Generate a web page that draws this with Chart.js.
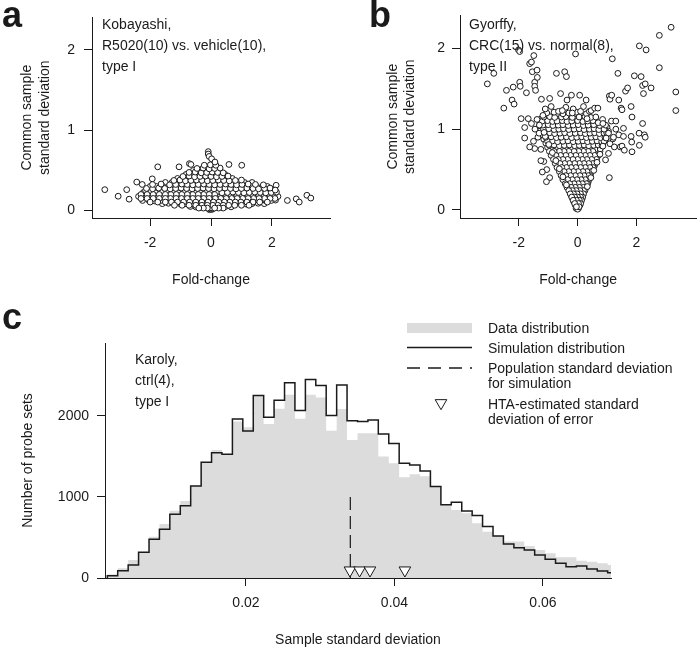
<!DOCTYPE html>
<html><head><meta charset="utf-8">
<script src="https://cdn.jsdelivr.net/npm/chart.js@4.4.0/dist/chart.umd.min.js"></script>
<style>
html,body{margin:0;padding:0;background:#fff;}
#wrap{position:relative;width:700px;height:651px;overflow:hidden;font-family:"Liberation Sans",Arial,sans-serif;color:#1a1a1a;}
canvas{position:absolute;}
.t{position:absolute;font-size:14px;line-height:21px;white-space:nowrap;}
.L{position:absolute;font-size:36px;font-weight:bold;line-height:36px;}
.lg{position:absolute;font-size:14px;line-height:16px;white-space:nowrap;}
</style></head><body>
<div id="wrap">
<canvas id="ca" width="350" height="300" style="left:0;top:0"></canvas>
<canvas id="cb" width="350" height="300" style="left:350px;top:0"></canvas>
<canvas id="cc" width="700" height="351" style="left:0;top:300px"></canvas>
<div class="L" style="left:2px;top:-3px">a</div>
<div class="L" style="left:369px;top:-3px">b</div>
<div class="L" style="left:2px;top:299px">c</div>
<div class="t" style="left:102px;top:14px">Kobayashi,<br>R5020(10) vs. vehicle(10),<br>type I</div>
<div class="t" style="left:469px;top:14px">Gyorffy,<br>CRC(15) vs. normal(8),<br>type II</div>
<div class="t" style="left:135px;top:349px">Karoly,<br>ctrl(4),<br>type I</div>
<div class="lg" style="left:488px;top:320px">Data distribution</div>
<div class="lg" style="left:488px;top:340px">Simulation distribution</div>
<div class="lg" style="left:488px;top:360px">Population standard deviation</div>
<div class="lg" style="left:488px;top:375px">for simulation</div>
<div class="lg" style="left:488px;top:396px">HTA-estimated standard</div>
<div class="lg" style="left:488px;top:411px">deviation of error</div>
</div>
<script>
// ---------- data ----------
const foldTicks = [-2, 0, 2];
const sdTicks = [0, 1, 2];
const countTicks = [0, 1000, 2000];
const sampleSdTicks = [0.02, 0.04, 0.06];

// Panel a: Kobayashi (fold-change, common sample SD) - core cloud as [x,y]
const kobaCore = [
[-0.05,0.005],[0.03,0.008],[-0.02,0.015],[0.06,0.02],[-0.08,0.022],[0.0,0.03],
[-0.68,0.045],[-0.5,0.04],[-0.34,0.045],[-0.18,0.04],[0.12,0.045],[0.3,0.04],[0.48,0.045],[0.66,0.04],
[-1.6,0.08],[-1.4,0.085],[-1.2,0.08],[-1.0,0.075],[-0.82,0.08],[-0.62,0.085],[-0.44,0.08],[-0.26,0.075],[-0.08,0.08],[0.1,0.085],[0.28,0.08],[0.45,0.075],[0.62,0.08],[0.8,0.085],[0.98,0.08],[1.16,0.075],[1.35,0.08],[1.55,0.085],[1.75,0.08],
[-2.25,0.12],[-2.05,0.125],[-1.85,0.115],[-1.65,0.12],[-1.45,0.125],[-1.28,0.12],[-1.1,0.115],[-0.92,0.12],[-0.74,0.125],[-0.56,0.12],[-0.38,0.115],[-0.2,0.12],[-0.02,0.125],[0.18,0.12],[0.36,0.115],[0.54,0.12],[0.72,0.125],[0.9,0.12],[1.08,0.115],[1.26,0.12],[1.44,0.125],[1.62,0.12],[1.8,0.115],[1.98,0.12],[2.12,0.125],
[-2.38,0.17],[-2.18,0.165],[-1.98,0.175],[-1.78,0.17],[-1.58,0.165],[-1.4,0.17],[-1.22,0.175],[-1.04,0.17],[-0.86,0.165],[-0.68,0.17],[-0.5,0.175],[-0.32,0.17],[-0.14,0.165],[0.06,0.17],[0.24,0.175],[0.42,0.17],[0.6,0.165],[0.78,0.17],[0.96,0.175],[1.14,0.17],[1.32,0.165],[1.5,0.17],[1.68,0.175],[1.86,0.17],[2.05,0.165],[2.2,0.17],
[-2.22,0.22],[-2.02,0.225],[-1.82,0.215],[-1.63,0.22],[-1.44,0.225],[-1.26,0.22],[-1.08,0.215],[-0.9,0.22],[-0.72,0.225],[-0.54,0.22],[-0.36,0.215],[-0.18,0.22],[0.0,0.225],[0.18,0.22],[0.36,0.215],[0.54,0.22],[0.72,0.225],[0.9,0.22],[1.08,0.215],[1.26,0.22],[1.44,0.225],[1.62,0.22],[1.8,0.215],[1.98,0.22],[2.15,0.225],
[-2.12,0.27],[-1.92,0.265],[-1.72,0.275],[-1.52,0.27],[-1.34,0.265],[-1.16,0.27],[-0.98,0.275],[-0.8,0.27],[-0.62,0.265],[-0.44,0.27],[-0.26,0.275],[-0.08,0.27],[0.1,0.265],[0.28,0.27],[0.46,0.275],[0.64,0.27],[0.82,0.265],[1.0,0.27],[1.18,0.275],[1.38,0.27],[1.56,0.265],[1.76,0.27],[1.94,0.275],
[-1.92,0.32],[-1.64,0.325],[-1.36,0.315],[-1.16,0.32],[-0.96,0.325],[-0.78,0.32],[-0.6,0.315],[-0.42,0.32],[-0.24,0.325],[-0.06,0.32],[0.12,0.315],[0.3,0.32],[0.48,0.325],[0.66,0.32],[0.84,0.315],[1.02,0.32],[1.22,0.325],[1.46,0.32],[1.72,0.315],
[-1.22,0.37],[-1.02,0.375],[-0.84,0.365],[-0.66,0.37],[-0.48,0.375],[-0.3,0.37],[-0.12,0.365],[0.06,0.37],[0.24,0.375],[0.42,0.37],[0.6,0.365],[0.8,0.37],[1.0,0.375],
[-0.92,0.42],[-0.72,0.425],[-0.54,0.415],[-0.36,0.42],[-0.18,0.425],[0.0,0.42],[0.18,0.415],[0.36,0.42],[0.56,0.425],
[-0.72,0.47],[-0.52,0.475],[-0.32,0.465],[-0.14,0.47],[0.04,0.475],[0.22,0.47],[0.4,0.465],
[-0.46,0.52],[-0.26,0.525],[-0.06,0.515],[0.12,0.52],[0.3,0.525],
[-0.22,0.56],[-0.02,0.565],[0.16,0.56]
];
// Panel a: in-between points, grouped by row: [y, [x ...]]
const kobaFillRows = [
[0.025, [-0.4,-0.25,-0.12,0.12,0.25,0.4]],
[0.06,  [-1.2,-0.95,-0.72,-0.5,-0.3,-0.12,0.06,0.22,0.4,0.58,0.78,1.0,1.25]],
[0.10,  [-2.0,-1.75,-1.5,-1.3,-1.1,-0.9,-0.7,-0.5,-0.3,-0.1,0.08,0.26,0.44,0.62,0.8,0.98,1.18,1.38,1.6,1.85]],
[0.145, [-2.3,-2.1,-1.9,-1.7,-1.5,-1.33,-1.15,-0.97,-0.78,-0.6,-0.42,-0.24,-0.06,0.14,0.32,0.5,0.68,0.86,1.04,1.22,1.4,1.58,1.76,1.94,2.1]],
[0.195, [-2.3,-2.1,-1.9,-1.7,-1.5,-1.32,-1.14,-0.96,-0.78,-0.6,-0.42,-0.24,-0.06,0.12,0.3,0.48,0.66,0.84,1.02,1.2,1.38,1.56,1.74,1.92,2.08]],
[0.245, [-2.15,-1.95,-1.75,-1.55,-1.36,-1.18,-1.0,-0.82,-0.64,-0.46,-0.28,-0.1,0.08,0.26,0.44,0.62,0.8,0.98,1.16,1.34,1.52,1.7,1.9,2.08]],
[0.295, [-2.0,-1.8,-1.58,-1.4,-1.22,-1.04,-0.86,-0.68,-0.5,-0.32,-0.14,0.04,0.22,0.4,0.58,0.76,0.94,1.12,1.3,1.5,1.7,1.85]],
[0.345, [-1.5,-1.28,-1.08,-0.9,-0.72,-0.54,-0.36,-0.18,0.0,0.18,0.36,0.54,0.72,0.9,1.1,1.35]],
[0.395, [-1.1,-0.92,-0.74,-0.56,-0.38,-0.2,-0.02,0.16,0.34,0.5,0.7]],
[0.445, [-0.82,-0.62,-0.44,-0.26,-0.08,0.1,0.28,0.46]],
[0.495, [-0.58,-0.38,-0.18,0.02,0.2]]
];
const kobaOut = [
[-3.49,0.255],[-3.05,0.173],[-2.77,0.255],[-2.69,0.136],[-2.44,0.35],[-2.26,0.32],[-1.93,0.39],[-1.75,0.54],
[-1.05,0.54],[-0.71,0.58],[-0.66,0.57],[-0.09,0.73],[-0.09,0.70],[-0.06,0.67],[0.02,0.64],[0.13,0.60],
[0.59,0.57],[1.01,0.56],[2.14,0.31],[2.11,0.25],[2.51,0.12],[2.80,0.14],[2.90,0.10],[3.15,0.185],[3.28,0.15]
];

// Panel b: Gyorffy
const gyorCore = [
[-0.05,0.02],[0.03,0.02],[0.0,0.01],
[-0.08,0.06],[0.0,0.055],[0.08,0.06],
[-0.13,0.10],[0.0,0.1],[0.11,0.095],
[-0.17,0.14],[-0.05,0.145],[0.07,0.14],[0.15,0.135],
[-0.22,0.18],[-0.08,0.185],[0.05,0.175],[0.18,0.18],
[-0.26,0.22],[-0.1,0.225],[0.04,0.215],[0.2,0.22],
[-0.3,0.26],[-0.14,0.265],[0.02,0.255],[0.17,0.26],[0.26,0.265],
[-0.35,0.30],[-0.18,0.305],[-0.02,0.295],[0.14,0.3],[0.3,0.305],
[-0.42,0.35],[-0.25,0.355],[-0.08,0.345],[0.08,0.35],[0.22,0.355],[0.36,0.345],
[-0.48,0.4],[-0.32,0.405],[-0.15,0.395],[0.0,0.4],[0.16,0.405],[0.3,0.395],[0.42,0.4],
[-0.55,0.45],[-0.38,0.455],[-0.2,0.445],[-0.04,0.45],[0.12,0.455],[0.28,0.445],[0.44,0.45],
[-0.6,0.5],[-0.43,0.505],[-0.26,0.495],[-0.1,0.5],[0.06,0.505],[0.22,0.495],[0.38,0.5],[0.5,0.505],
[-0.66,0.55],[-0.5,0.555],[-0.33,0.545],[-0.16,0.55],[0.0,0.555],[0.16,0.545],[0.32,0.55],[0.48,0.555],[0.57,0.545],
[-0.72,0.6],[-0.55,0.605],[-0.38,0.595],[-0.2,0.6],[-0.04,0.605],[0.12,0.595],[0.28,0.6],[0.44,0.605],[0.6,0.595],
[-0.78,0.65],[-0.62,0.655],[-0.45,0.645],[-0.28,0.65],[-0.1,0.655],[0.06,0.645],[0.22,0.65],[0.38,0.655],[0.54,0.645],[0.66,0.65],
[-0.85,0.7],[-0.68,0.705],[-0.5,0.695],[-0.33,0.7],[-0.16,0.705],[0.0,0.695],[0.16,0.7],[0.32,0.705],[0.48,0.695],[0.64,0.7],[0.73,0.705],
[-0.9,0.75],[-0.73,0.755],[-0.56,0.745],[-0.4,0.75],[-0.22,0.755],[-0.05,0.745],[0.12,0.75],[0.28,0.755],[0.44,0.745],[0.6,0.75],[0.77,0.755],
[-0.96,0.8],[-0.8,0.805],[-0.62,0.795],[-0.45,0.8],[-0.28,0.805],[-0.1,0.795],[0.06,0.8],[0.22,0.805],[0.38,0.795],[0.55,0.8],[0.7,0.805],[0.83,0.795],
[-1.02,0.85],[-0.85,0.855],[-0.68,0.845],[-0.5,0.85],[-0.33,0.855],[-0.15,0.845],[0.02,0.85],[0.18,0.855],[0.34,0.845],[0.5,0.85],[0.66,0.855],[0.82,0.845],[0.9,0.85],
[-1.08,0.9],[-0.9,0.905],[-0.72,0.895],[-0.56,0.9],[-0.38,0.905],[-0.2,0.895],[-0.03,0.9],[0.14,0.905],[0.3,0.895],[0.46,0.9],[0.62,0.905],[0.78,0.895],[0.93,0.9],
[-1.12,0.95],[-0.95,0.955],[-0.78,0.945],[-0.6,0.95],[-0.44,0.955],[-0.26,0.945],[-0.08,0.95],[0.1,0.955],[0.26,0.945],[0.42,0.95],[0.58,0.955],[0.74,0.945],[0.9,0.95],[0.99,0.955],
[-1.16,1.0],[-0.98,1.005],[-0.8,0.995],[-0.64,1.0],[-0.48,1.005],[-0.3,0.995],[-0.12,1.0],[0.05,1.005],[0.22,0.995],[0.4,1.0],[0.56,1.005],[0.72,0.995],[0.9,1.0],
[-1.18,1.05],[-1.0,1.055],[-0.84,1.045],[-0.66,1.05],[-0.5,1.055],[-0.32,1.045],[-0.15,1.05],[0.02,1.055],[0.2,1.045],[0.36,1.05],[0.55,1.055],[0.75,1.045],
[-1.2,1.1],[-1.02,1.105],[-0.85,1.095],[-0.7,1.1],[-0.52,1.105],[-0.36,1.095],[-0.2,1.1],[0.0,1.105],[0.18,1.095],[0.34,1.1],[0.52,1.105],
[-1.15,1.15],[-0.95,1.155],[-0.78,1.145],[-0.55,1.15],[-0.4,1.155],[-0.18,1.145],[0.05,1.15],[0.25,1.155],[0.45,1.145],
[-1.05,1.2],[-0.8,1.21],[-0.5,1.19],[-0.3,1.2],[-0.05,1.21],[0.3,1.19],
[1.05,0.95],[1.1,0.82],[1.2,0.88],[1.25,0.78],[1.3,1.0],[1.4,0.93],[1.05,0.7],[0.95,0.62],[1.15,1.1],[1.3,1.1],[1.45,0.78],
[-1.35,0.9],[-1.3,1.05],[-1.45,1.0],[-1.25,0.75],[-1.15,0.6],[-1.05,0.5],[-0.95,0.4],[-1.5,0.85]
];
const gyorFillRows = [
[0.04,  [-0.04,0.05]],
[0.08,  [-0.1,0.03,0.1]],
[0.12,  [-0.15,-0.04,0.06,0.13]],
[0.16,  [-0.2,-0.1,0.0,0.1,0.17]],
[0.20,  [-0.25,-0.14,-0.02,0.1,0.2]],
[0.24,  [-0.3,-0.18,-0.05,0.08,0.2,0.25]],
[0.28,  [-0.36,-0.22,-0.08,0.06,0.2,0.29]],
[0.325, [-0.42,-0.27,-0.12,0.02,0.16,0.3,0.34]],
[0.375, [-0.5,-0.34,-0.18,-0.02,0.12,0.26,0.38]],
[0.425, [-0.56,-0.4,-0.24,-0.08,0.08,0.22,0.36,0.43]],
[0.475, [-0.62,-0.46,-0.3,-0.14,0.02,0.18,0.32,0.46]],
[0.525, [-0.7,-0.54,-0.38,-0.22,-0.06,0.1,0.26,0.42,0.53]],
[0.575, [-0.76,-0.6,-0.44,-0.28,-0.1,0.06,0.22,0.38,0.52,0.6]],
[0.625, [-0.82,-0.66,-0.5,-0.34,-0.16,0.0,0.16,0.32,0.48,0.64]],
[0.675, [-0.9,-0.74,-0.58,-0.4,-0.24,-0.06,0.1,0.26,0.42,0.58,0.7]],
[0.725, [-0.96,-0.8,-0.62,-0.46,-0.3,-0.12,0.04,0.2,0.36,0.52,0.68,0.76]],
[0.775, [-1.02,-0.86,-0.7,-0.52,-0.36,-0.18,-0.02,0.14,0.3,0.46,0.62,0.78]],
[0.825, [-1.08,-0.92,-0.76,-0.58,-0.42,-0.24,-0.06,0.1,0.26,0.42,0.58,0.74,0.86]],
[0.875, [-1.15,-0.98,-0.8,-0.64,-0.46,-0.3,-0.12,0.06,0.22,0.38,0.54,0.7,0.86,0.95]],
[0.925, [-1.22,-1.04,-0.86,-0.68,-0.52,-0.34,-0.16,0.02,0.18,0.34,0.5,0.66,0.82,0.98]],
[0.975, [-1.28,-1.08,-0.9,-0.72,-0.56,-0.38,-0.2,-0.02,0.14,0.3,0.48,0.64,0.8,0.96,1.05]],
[1.025, [-1.3,-1.1,-0.92,-0.74,-0.58,-0.4,-0.24,-0.06,0.1,0.28,0.46,0.64,0.82,1.0]],
[1.075, [-1.28,-1.1,-0.94,-0.76,-0.6,-0.44,-0.26,-0.08,0.1,0.26,0.44,0.64,0.85]],
[1.125, [-1.25,-1.05,-0.88,-0.66,-0.48,-0.3,-0.1,0.12,0.35,0.6]]
];
// Panel b: ragged edge points of the V
const gyorEdge = [
[-0.38,0.31],[0.33,0.29],[-0.62,0.51],[0.55,0.49],[-0.86,0.71],[0.76,0.69],[-1.1,0.91],[0.97,0.89],
[-0.5,0.41],[0.45,0.4],[-0.74,0.61],[0.66,0.59],[-0.98,0.81],[0.86,0.79],
[-1.1,1.25],[-0.9,1.28],[-0.65,1.22],[-0.4,1.27],[-0.15,1.25],[0.1,1.22],[0.2,1.28],[0.4,1.22],
[0.62,1.15],[0.7,1.08],[0.85,1.12],[0.95,1.05],[-1.38,1.12]
];
const gyorOut = [
[-3.07,1.56],[-2.85,1.69],[-2.51,1.26],[-2.42,1.48],[-2.23,1.36],[-2.16,1.31],[-2.19,1.52],[-1.97,1.58],[-1.95,1.53],
[-2.01,1.98],[-1.97,1.96],[-1.92,1.13],[-1.80,1.02],[-1.80,0.89],[-1.74,1.45],[-1.63,1.81],[-1.57,1.83],[-1.54,1.71],
[-1.49,1.91],[-1.46,1.58],[-1.46,1.53],[-1.43,1.48],[-1.38,1.73],[-1.37,1.64],[-1.23,1.37],[-1.18,1.17],[-0.95,1.38],
[-0.72,1.69],[-0.58,1.44],[-0.52,1.23],[-0.44,1.71],[-0.38,1.65],[-0.36,1.36],[-0.21,1.42],[-0.18,1.20],[-0.07,1.93],
[0.07,1.42],[0.29,1.36],[0.32,1.13],[0.46,1.23],[0.58,1.26],[0.69,1.26],[0.86,1.07],[1.08,1.41],[1.10,1.37],[1.16,1.42],
[1.18,1.87],[1.37,1.69],[1.40,1.36],[1.48,1.26],[1.51,1.24],[1.63,1.47],[1.70,1.51],[1.82,1.28],[1.85,1.15],[1.93,1.66],
[2.10,2.03],[2.16,1.65],[2.21,1.54],[2.24,1.44],[2.33,1.98],[2.30,1.56],[2.50,1.51],[2.78,2.16],[2.78,1.76],[3.18,2.26],
[3.34,1.46],[3.34,1.23],[1.82,0.91],[1.84,0.84],[1.85,0.72],[2.10,0.80],[2.21,1.07],[2.27,0.93],[2.30,0.90],[2.09,0.95],
[1.56,1.01],[1.56,0.91],[1.51,0.79],[1.59,0.74],[1.22,0.90],[1.08,0.40],[-1.46,0.76],[-1.63,0.78],[-1.25,0.61],
[-1.20,0.47],[-1.06,0.35],[-1.31,0.95],[-1.57,1.07],[-1.14,0.96],[-1.68,1.13]
];

// Panel c: Karoly histogram (49 bins)
const binEdges = [0.00132,0.00272,0.00413,0.00553,0.00694,0.00834,0.00974,0.01115,0.01255,0.01396,
0.01536,0.01676,0.01817,0.01957,0.02098,0.02238,0.02378,0.02519,0.02659,0.02800,
0.02940,0.03080,0.03221,0.03361,0.03502,0.03642,0.03782,0.03923,0.04063,0.04204,
0.04344,0.04484,0.04625,0.04765,0.04906,0.05046,0.05186,0.05327,0.05467,0.05608,
0.05748,0.05888,0.06029,0.06169,0.06310,0.06450,0.06590,0.06731,0.06871,0.07012];
const dataCounts = [45,119,222,317,510,667,830,950,1136,1428,1580,1527,1930,1860,2251,1900,2090,2260,1965,2260,
2228,1817,2085,1704,1786,1786,1498,1416,1243,1280,1255,1128,901,840,798,675,572,519,449,449,
395,346,305,255,255,214,201,181,160];
const simCounts = [29,90,160,317,477,601,786,893,1136,1428,1547,1527,1963,1815,2251,1984,2195,2411,2068,2450,
2375,2004,2383,1940,1930,1951,1776,1660,1416,1393,1321,1128,905,934,827,770,634,519,420,374,
346,284,230,181,140,148,111,86,65];
const popSd = 0.03405;
const popSdHeight = 1000;
const htaSd = [0.0340, 0.0353, 0.0367, 0.0414];
const htaMarkerY = 95;

// ---------- rendering ----------
const FONT = '"Liberation Sans", Arial, sans-serif';
const INK = '#1a1a1a';
const GRAY = '#dcdcdc';

function rowsToPts(rows){
  const out = [];
  rows.forEach(r => r[1].forEach(x => out.push([x, r[0]])));
  return out;
}
// interleave two lists so that the drawing order is mixed
function interleave(a, b){
  const out = [];
  const n = Math.max(a.length, b.length);
  for (let i = 0; i < n; i++){
    if (i < a.length) out.push(a[i]);
    if (i < b.length) out.push(b[b.length - 1 - i]);
  }
  return out;
}

function axis(extra){
  return Object.assign({
    type:'linear',
    grid:{display:true, drawOnChartArea:false, drawTicks:true, tickLength:8, color:INK, lineWidth:1},
    border:{display:true, color:INK, width:1}
  }, extra);
}
function tickFont(pad){ return {padding:pad, color:INK, font:{family:FONT, size:14}, callback:v => String(v)}; }

function scatterPanel(id, pts, xr, yTitlePad, yTitleLH, yTickPad, padRight, yAxisW){
  return new Chart(document.getElementById(id), {
    type:'scatter',
    data:{datasets:[{
      data: pts.map(p => ({x:p[0], y:p[1]})),
      pointRadius:2.9, pointHoverRadius:2.9, pointBorderWidth:1,
      pointBorderColor:INK, pointBackgroundColor:'#ffffff'
    }]},
    options:{
      responsive:false, animation:false, devicePixelRatio:1, events:[],
      layout:{padding:{top:15, right:padRight, left:0, bottom:0}},
      plugins:{legend:{display:false}, tooltip:{enabled:false}},
      scales:{
        x: axis({min:xr[0], max:xr[1],
          afterBuildTicks:s => { s.ticks = foldTicks.map(v => ({value:v})); },
          afterFit:s => { s.height = 82; },
          ticks:tickFont(9),
          title:{display:true, text:'Fold-change', color:INK, font:{family:FONT, size:14, lineHeight:'18px'}, padding:{top:0, bottom:11}}
        }),
        y: axis({min:-0.099, max:2.407,
          afterBuildTicks:s => { s.ticks = sdTicks.map(v => ({value:v})); },
          afterFit:s => { s.width = yAxisW; },
          ticks:tickFont(yTickPad),
          title:{display:true, text:['Common sample','standard deviation'], color:INK,
            font:{family:FONT, size:14, lineHeight:yTitleLH+'px'}, padding:{top:yTitlePad, bottom:0}}
        })
      }
    }
  });
}

scatterPanel('ca', interleave(kobaCore, rowsToPts(kobaFillRows)).concat(kobaOut), [-3.91, 3.91], 18, 18, 9, 20, 92);
scatterPanel('cb', interleave(gyorCore, rowsToPts(gyorFillRows)).concat(gyorEdge, gyorOut), [-4.0, 4.03], 34.5, 17, 7, 3, 110);

// histogram step series from bin edges
function stepPoints(counts, withBase){
  const pts = [];
  if (withBase) pts.push({x:binEdges[0], y:0});
  counts.forEach((c, i) => pts.push({x:binEdges[i], y:c}));
  pts.push({x:binEdges[counts.length], y:counts[counts.length-1]});
  return pts;
}

const legendPlugin = {
  id:'legendGlyphs',
  afterDraw(chart){
    const ctx = chart.ctx;
    ctx.save();
    ctx.fillStyle = GRAY;
    ctx.fillRect(407, 23, 65, 10);
    ctx.strokeStyle = INK;
    ctx.lineWidth = 1.4;
    ctx.beginPath(); ctx.moveTo(407, 47.5); ctx.lineTo(472, 47.5); ctx.stroke();
    ctx.setLineDash([13, 8]);
    ctx.beginPath(); ctx.moveTo(407, 68); ctx.lineTo(472, 68); ctx.stroke();
    ctx.setLineDash([]);
    ctx.lineWidth = 1;
    ctx.fillStyle = '#ffffff';
    const cx = 441, cy = 103, r = 6.7;
    ctx.beginPath();
    ctx.moveTo(cx, cy + r);
    ctx.lineTo(cx - r*Math.sin(Math.PI/3), cy - r/2);
    ctx.lineTo(cx + r*Math.sin(Math.PI/3), cy - r/2);
    ctx.closePath(); ctx.fill(); ctx.stroke();
    ctx.restore();
  }
};

new Chart(document.getElementById('cc'), {
  type:'line',
  data:{datasets:[
    {label:'HTA-estimated standard deviation of error', data: htaSd.map(v => ({x:v, y:htaMarkerY})),
     showLine:false, pointStyle:'triangle', rotation:180, pointRadius:6.7, pointHoverRadius:6.7,
     pointBackgroundColor:'#ffffff', pointBorderColor:INK, pointBorderWidth:1},
    {label:'Population standard deviation for simulation', data:[{x:popSd, y:popSdHeight},{x:popSd, y:0}],
     borderColor:INK, borderWidth:1.2, borderDash:[13,6], pointRadius:0, fill:false},
    {label:'Simulation distribution', data: stepPoints(simCounts, true), stepped:true,
     borderColor:INK, borderWidth:1.5, pointRadius:0, fill:false},
    {label:'Data distribution', data: stepPoints(dataCounts, false), stepped:true,
     borderWidth:0, borderColor:GRAY, backgroundColor:GRAY, pointRadius:0, fill:'origin'}
  ]},
  options:{
    responsive:false, animation:false, devicePixelRatio:1, events:[],
    layout:{padding:{top:43, right:89, left:0, bottom:0}},
    plugins:{legend:{display:false}, tooltip:{enabled:false}},
    scales:{
      x: axis({min:0.00101, max:0.06916,
        afterBuildTicks:s => { s.ticks = sampleSdTicks.map(v => ({value:v})); },
        afterFit:s => { s.height = 73; },
        ticks:Object.assign(tickFont(9), {callback:v => v.toFixed(2)}),
        title:{display:true, text:'Sample standard deviation', color:INK, font:{family:FONT, size:14, lineHeight:'18px'}, padding:{top:0, bottom:2}}
      }),
      y: axis({min:0, max:2900,
        afterBuildTicks:s => { s.ticks = countTicks.map(v => ({value:v})); },
        afterFit:s => { s.width = 105; },
        ticks:tickFont(8),
        title:{display:true, text:'Number of probe sets', color:INK, font:{family:FONT, size:14, lineHeight:'18px'}, padding:{top:19, bottom:0}}
      })
    }
  },
  plugins:[legendPlugin]
});
</script>
</body></html>
